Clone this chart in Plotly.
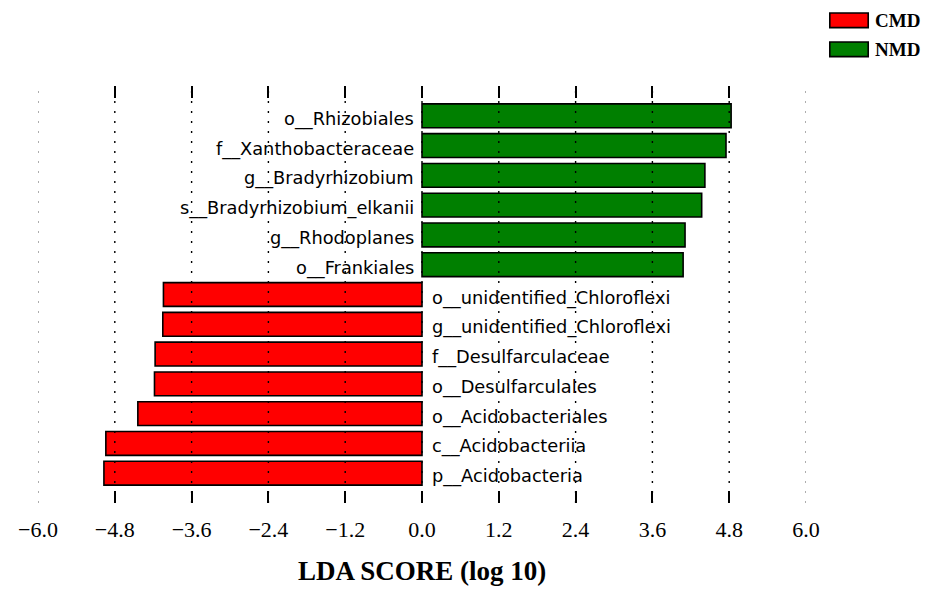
import plotly.graph_objects as go

# LEfSe LDA scores per taxon (top to bottom)
taxa = [
    "o__Rhizobiales",
    "f__Xanthobacteraceae",
    "g__Bradyrhizobium",
    "s__Bradyrhizobium_elkanii",
    "g__Rhodoplanes",
    "o__Frankiales",
    "o__unidentified_Chloroflexi",
    "g__unidentified_Chloroflexi",
    "f__Desulfarculaceae",
    "o__Desulfarculales",
    "o__Acidobacteriales",
    "c__Acidobacteriia",
    "p__Acidobacteria",
]
lda_scores = [4.83, 4.75, 4.42, 4.37, 4.11, 4.08,
              -4.04, -4.05, -4.17, -4.18, -4.44, -4.94, -4.97]
groups = ["NMD"] * 6 + ["CMD"] * 7

group_names = ["CMD", "NMD"]
group_colors = {"CMD": "#FF0000", "NMD": "#007F00"}

tick_values = [-6.0, -4.8, -3.6, -2.4, -1.2, 0.0, 1.2, 2.4, 3.6, 4.8, 6.0]
tick_labels = [("−" if v < 0 else "") + f"{abs(v):.1f}" for v in tick_values]

x_title = "LDA SCORE (log 10)"

fig = go.Figure()

fig.add_trace(go.Bar(
    x=lda_scores,
    y=list(range(len(taxa))),
    orientation="h",
    width=0.8,
    marker=dict(color=[group_colors[g] for g in groups],
                line=dict(color="black", width=1.6)),
    showlegend=False,
    hoverinfo="skip",
))

# taxon names next to the zero line
for i, (name, score) in enumerate(zip(taxa, lda_scores)):
    fig.add_annotation(
        x=0, y=i, xref="x", yref="y", text=name, showarrow=False,
        xanchor="right" if score > 0 else "left",
        xshift=-6 if score > 0 else 8, yshift=-3,
        font=dict(family="DejaVu Sans", size=17.8, color="black"),
    )

# dotted grid drawn over the bars
for v in tick_values:
    edge = abs(v) == max(abs(t) for t in tick_values)
    fig.add_shape(
        type="line", xref="x", yref="paper", x0=v, x1=v, y0=0, y1=1,
        layer="above",
        line=dict(color="#8a8a8a" if edge else "black", width=1.4, dash="2px,8px"),
    )

# legend: coloured patches with bold labels
for k, g in enumerate(group_names):
    y_top = 1.175 - k * 0.0695
    fig.add_shape(
        type="rect", xref="paper", yref="paper",
        x0=1.031, x1=1.081, y0=y_top - 0.035, y1=y_top,
        fillcolor=group_colors[g], line=dict(color="black", width=1.6),
    )
    fig.add_annotation(
        x=1.087, y=y_top - 0.0175, xref="paper", yref="paper", text=f"<b>{g}</b>",
        showarrow=False, xanchor="left", yanchor="middle",
        font=dict(family="Liberation Serif", size=19, color="black"),
    )

fig.add_annotation(
    x=0.5, y=-0.164, xref="paper", yref="paper", text=f"<b>{x_title}</b>",
    showarrow=False, xanchor="center", yanchor="middle",
    font=dict(family="Liberation Serif", size=27, color="black"),
)

fig.update_layout(
    width=929, height=589,
    margin=dict(l=38, r=123, t=86, b=86),
    paper_bgcolor="white", plot_bgcolor="white",
    xaxis=dict(
        range=[-6, 6], tickvals=tick_values, ticktext=tick_labels,
        ticks="inside", ticklen=12, tickwidth=1.6, tickcolor="black",
        mirror="ticks", showline=False, showgrid=False, zeroline=False,
        layer="above traces", ticklabelstandoff=11,
        tickfont=dict(family="Liberation Serif", size=22, color="black"),
    ),
    yaxis=dict(
        range=[len(taxa), -1], showticklabels=False, showgrid=False,
        zeroline=False, showline=False, ticks="",
    ),
    bargap=0.2,
)

fig.write_html("out.html")
